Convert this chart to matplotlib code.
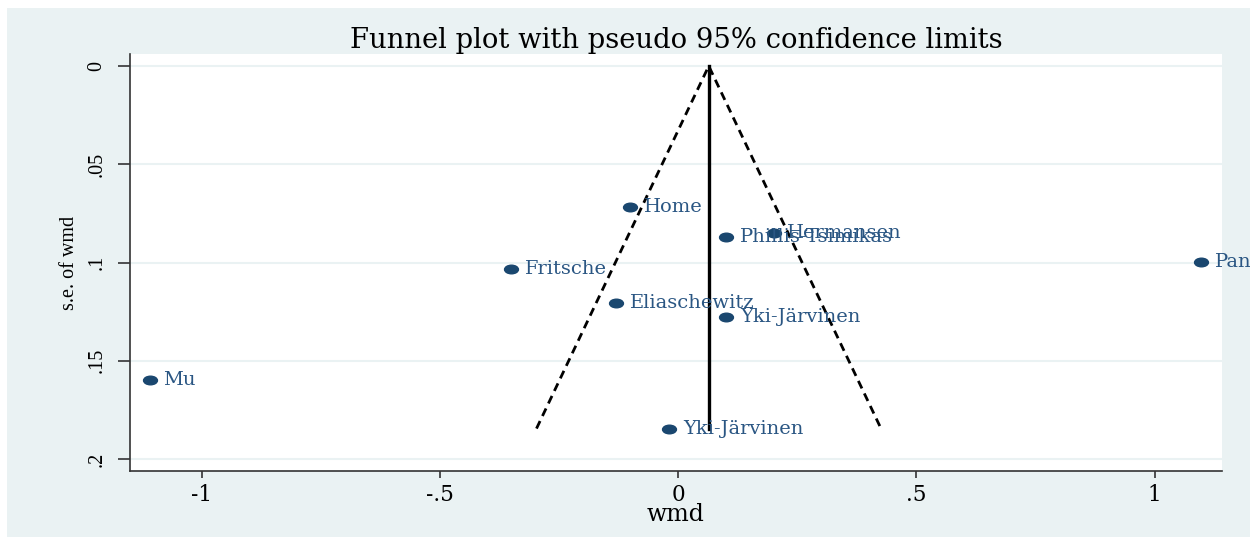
import matplotlib
matplotlib.use("Agg")
from matplotlib import pyplot as plt
from matplotlib.patches import Rectangle
from matplotlib.path import Path
from matplotlib.transforms import Affine2D

# study estimates (weighted mean difference) and their standard errors
studies = ["Home", "Phillis-Tsimikas", "Hermansen", "Pan", "Fritsche",
           "Eliaschewitz", "Yki-Järvinen", "Mu", "Yki-Järvinen"]
wmd = [-0.101, 0.100, 0.200, 1.097, -0.351, -0.131, 0.100, -1.110, -0.019]
se_wmd = [0.072, 0.087, 0.085, 0.0995, 0.1035, 0.1205, 0.1275, 0.160, 0.1845]

pooled = 0.064  # fixed-effect estimate
z95 = 1.96

x_ticks = [-1, -0.5, 0, 0.5, 1]
x_tick_labels = ["-1", "-.5", "0", ".5", "1"]
y_ticks = [0, 0.05, 0.1, 0.15, 0.2]
y_tick_labels = ["0", ".05", ".1", ".15", ".2"]

navy = "#1a476f"
label_blue = "#2a5683"
bg = "#eaf2f3"
serif = ["Liberation Serif", "DejaVu Serif"]   # rotated texts
wide = ["DejaVu Serif"]                        # horizontal texts

fig = plt.figure(figsize=(12.5, 5.37), dpi=100, facecolor="white")
fig.patches.append(Rectangle((0.0056, 0), 0.9944, 0.985, transform=fig.transFigure,
                             facecolor=bg, edgecolor="none", zorder=-10))
ax = fig.add_axes([0.104, 0.1229, 0.8736, 0.7765])
ax.set_facecolor("white")

# pseudo 95% confidence limits
se_max = max(se_wmd)
ax.plot([pooled - z95 * se_max, pooled, pooled + z95 * se_max], [se_max, 0, se_max],
        color="black", linestyle=(0, (3.0, 2.0)), linewidth=2.0, zorder=3)
ax.plot([pooled, pooled], [0, se_max], color="black", linewidth=2.4, zorder=3)

# slightly flattened dot
dot = Path.unit_circle().transformed(Affine2D().scale(1, 0.62))
ax.plot(wmd, se_wmd, linestyle="none", marker=dot, markersize=10,
        color=navy, zorder=4)
for name, x, y in zip(studies, wmd, se_wmd):
    ax.annotate(name, (x, y), xytext=(10, 0), textcoords="offset points",
                va="center", ha="left", color=label_blue, fontsize=14,
                family=wide, zorder=5)

ax.set_xlim(-1.151, 1.1415)
ax.set_ylim(0.2061, -0.0061)
ax.set_xticks(x_ticks)
ax.set_xticklabels(x_tick_labels, family=wide, fontsize=15.5)
ax.set_yticks(y_ticks)
ax.set_yticklabels(y_tick_labels, family=serif, fontsize=14.5, rotation=90, va="center")
ax.tick_params(axis="x", length=5, width=1.2, color="#333333", pad=4)
ax.tick_params(axis="y", length=9, width=1.2, color="#333333", pad=8)
ax.grid(axis="y", color=bg, linewidth=1.5)
ax.set_axisbelow(True)

for side in ["top", "right"]:
    ax.spines[side].set_visible(False)
for side in ["left", "bottom"]:
    ax.spines[side].set_color("#333333")
    ax.spines[side].set_linewidth(1.2)

ax.set_xlabel("wmd", family=wide, fontsize=17, labelpad=-1.5)
ax.set_ylabel("s.e. of wmd", family=serif, fontsize=14.5, labelpad=6)
ax.set_title("Funnel plot with pseudo 95% confidence limits", family=wide,
             fontsize=19.7, pad=4)

fig.savefig("out.png", dpi=100, facecolor=fig.get_facecolor())
